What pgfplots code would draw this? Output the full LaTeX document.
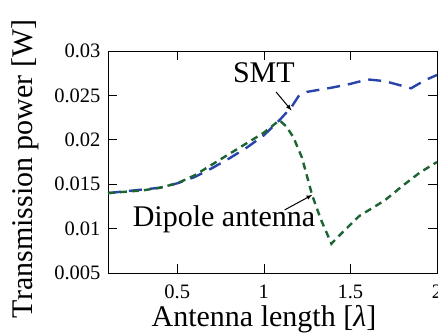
\documentclass[border=0pt]{standalone}
\usepackage{pgfplots}
\pgfplotsset{compat=1.18}
\usepackage{fontspec}
\setmainfont{Liberation Serif}
\definecolor{smtblue}{RGB}{40,68,170}
\definecolor{dipgreen}{RGB}{28,100,50}
\begin{document}
\begin{tikzpicture}
\begin{axis}[
  at={(0pt,0pt)}, anchor=south west,
  scale only axis, width=329pt, height=222pt,
  xmin=0.1, xmax=2, ymin=0.005, ymax=0.03,
  xtick={0.5,1,1.5,2}, xticklabels={0.5,1,1.5,2},
  ytick={0.005,0.01,0.015,0.02,0.025,0.03},
  yticklabels={0.005,0.01,0.015,0.02,0.025,0.03},
  scaled y ticks=false,
  tick align=inside, major tick length=9pt,
  tick style={black, line width=0.6pt},
  axis line style={black, line width=0.8pt},
  ticklabel style={font=\fontsize{20.5}{24}\selectfont},
  x tick label style={yshift=-8pt},
  y tick label style={xshift=-4pt},
  /pgf/number format/assume math mode=true,
  xlabel={Antenna length [\textit{λ}]},
  ylabel={Transmission power [W]},
  label style={font=\fontsize{30}{36}\selectfont},
  xlabel style={at={(axis description cs:0.474,0)}, anchor=center, yshift=-46pt},
  ylabel style={at={(axis description cs:-0.252,0.47)}, anchor=center, rotate=0},
  clip=false,
]
\addplot[smtblue, line width=2.4pt, dash pattern=on 13pt off 8pt] coordinates {
(0.1,0.0140) (0.3,0.0144) (0.4,0.0146) (0.5,0.0151) (0.6,0.0158) (0.7,0.0168)
(0.8,0.0179) (0.9,0.0191) (1.0,0.0205) (1.09,0.0222) (1.16,0.0237) (1.2,0.0249)
(1.25,0.0254) (1.4,0.0259) (1.5,0.0263) (1.6,0.0268) (1.7,0.0266) (1.85,0.0258)
(1.93,0.0267) (2.0,0.0273)};
\addplot[dipgreen, line width=2.4pt, dash pattern=on 7pt off 5pt] coordinates {
(0.1,0.0140) (0.3,0.0143) (0.4,0.0146) (0.5,0.0151) (0.6,0.0160) (0.7,0.0172)
(0.8,0.0184) (0.9,0.0196) (1.0,0.0208) (1.09,0.0222) (1.13,0.0215) (1.17,0.0203)
(1.22,0.0180) (1.28,0.0137) (1.33,0.0110) (1.39,0.0083) (1.45,0.0095) (1.55,0.0114)
(1.7,0.0132) (1.8,0.0148) (1.9,0.0163) (2.0,0.0175)};
\node[font=\fontsize{30}{36}\selectfont, fill=white, inner sep=1pt] at (axis cs:1.0,0.0275) {SMT};
\draw[-latex, line width=1pt] (axis cs:1.07,0.0254) -- (axis cs:1.16,0.0233);
\node[font=\fontsize{30}{36}\selectfont, inner sep=1pt] at (axis cs:0.77,0.0111) {Dipole antenna};
\draw[-latex, line width=1pt] (axis cs:1.12,0.0121) -- (axis cs:1.28,0.0138);
\end{axis}
\pgfresetboundingbox
\path[use as bounding box] (-108pt,-63pt) rectangle (330pt,273pt);
\end{tikzpicture}
\end{document}
